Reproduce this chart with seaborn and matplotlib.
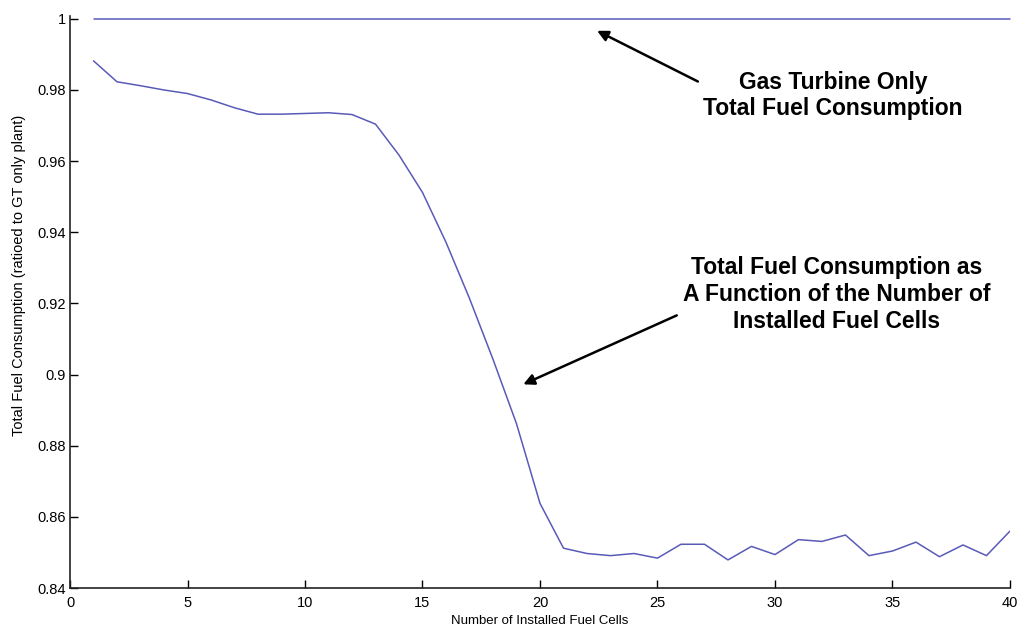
import matplotlib
matplotlib.use("Agg")
import matplotlib.pyplot as plt
import seaborn as sns
import pandas as pd

# ---- data ----
n_cells = list(range(1, 41))
fuel_ratio = [0.9882, 0.9823, 0.9812, 0.9800, 0.9790, 0.9772, 0.9750, 0.9732,
              0.9732, 0.9734, 0.9736, 0.9731, 0.9704, 0.9617, 0.9512, 0.9372,
              0.9214, 0.9043, 0.8862, 0.8638, 0.8512, 0.8497, 0.8491, 0.8497,
              0.8484, 0.8523, 0.8523, 0.8479, 0.8517, 0.8494, 0.8536, 0.8531,
              0.8549, 0.8491, 0.8504, 0.8529, 0.8488, 0.8521, 0.8491, 0.8560]
gt_only = [1.0] * 40

x_ticks = [0, 5, 10, 15, 20, 25, 30, 35, 40]
y_ticks = [0.84, 0.86, 0.88, 0.90, 0.92, 0.94, 0.96, 0.98, 1.00]
y_tick_labels = ["0.84", "0.86", "0.88", "0.9", "0.92", "0.94", "0.96", "0.98", "1"]

x_label = "Number of Installed Fuel Cells"
y_label = "Total Fuel Consumption (ratioed to GT only plant)"
note_gt = "Gas Turbine Only\nTotal Fuel Consumption"
note_fc = "Total Fuel Consumption as\nA Function of the Number of\nInstalled Fuel Cells"

df = pd.DataFrame({"n": n_cells, "fuel": fuel_ratio, "gt": gt_only})

# ---- style ----
sns.set_theme(style="ticks")
plt.rcParams["font.family"] = ["Liberation Sans", "DejaVu Sans"]
plt.rcParams["text.color"] = "black"
plt.rcParams["axes.labelcolor"] = "black"
plt.rcParams["xtick.color"] = "black"
plt.rcParams["ytick.color"] = "black"

fig = plt.figure(figsize=(10.31, 6.32), dpi=100)
ax = fig.add_axes([0.0679, 0.0696, 0.9117, 0.9051])

line_color = "#5a5ab8"
sns.lineplot(data=df, x="n", y="gt", ax=ax, color=line_color, linewidth=1.1, clip_on=False)
sns.lineplot(data=df, x="n", y="fuel", ax=ax, color=line_color, linewidth=1.1)

ax.set_xlim(0, 40)
ax.set_ylim(0.84, 1.0008)
ax.set_xticks(x_ticks)
ax.set_xticklabels([str(t) for t in x_ticks])
ax.set_yticks(y_ticks)
ax.set_yticklabels(y_tick_labels)
ax.tick_params(axis="both", direction="in", length=6, width=1, colors="black",
               labelsize=10.5)
ax.tick_params(axis="x", pad=6)
ax.tick_params(axis="y", pad=3)

for side in ["top", "right"]:
    ax.spines[side].set_visible(False)
for side in ["left", "bottom"]:
    ax.spines[side].set_color("#222222")
    ax.spines[side].set_linewidth(1.2)

ax.set_xlabel(x_label, fontsize=9.5)
ax.set_ylabel(y_label, fontsize=10.5)
ax.xaxis.set_label_coords(0.5, -0.048)
ax.yaxis.set_label_coords(-0.047, 0.547)

arrow = dict(arrowstyle="-|>", color="black", lw=1.8, mutation_scale=16,
             shrinkA=0, shrinkB=0)
ax.annotate("", xy=(22.43, 0.99664), xytext=(26.72, 0.98238), arrowprops=arrow)
ax.annotate("", xy=(19.29, 0.89726), xytext=(25.82, 0.91664), arrowprops=arrow)

ax.text(32.47, 0.9785, note_gt, ha="center", va="center", fontsize=16.5,
        fontweight="bold", linespacing=1.2)
ax.text(32.63, 0.9225, note_fc, ha="center", va="center", fontsize=16.5,
        fontweight="bold", linespacing=1.2)

fig.savefig("out.png", dpi=100, facecolor="white")
